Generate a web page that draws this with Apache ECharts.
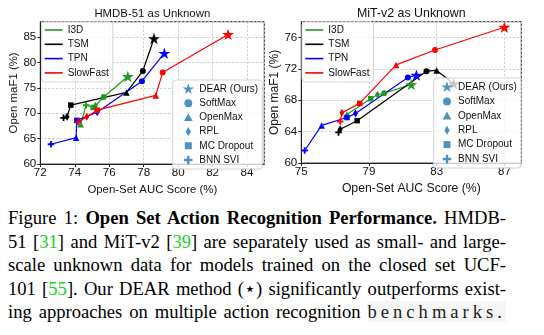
<!DOCTYPE html>
<html><head><meta charset="utf-8">
<script src="https://cdn.jsdelivr.net/npm/echarts@6/dist/echarts.min.js"></script>
<style>
html,body{margin:0;padding:0;background:#fff;}
#wrap{position:relative;width:544px;height:335px;overflow:hidden;background:#fff;}
#chart{position:absolute;left:0;top:0;width:544px;height:200px;}
.cap{position:absolute;left:8px;width:498px;height:23.5px;font-family:"Liberation Serif","Times New Roman",serif;font-size:18.6px;line-height:23.5px;text-align:justify;text-align-last:justify;color:#000;white-space:normal;}
.cite{color:#22d022;}
.garb{letter-spacing:4px;background:rgba(0,0,0,0.035);color:#222;}
</style></head>
<body><div id="wrap"><div id="chart"></div>
<div class="cap" style="top:206.3px">Figure 1: <b>Open Set Action Recognition Performance.</b> HMDB-</div>
<div class="cap" style="top:229.8px">51 [<span class="cite">31</span>] and MiT-v2 [<span class="cite">39</span>] are separately used as small- and large-</div>
<div class="cap" style="top:253.3px">scale unknown data for models trained on the closed set UCF-</div>
<div class="cap" style="top:276.8px">101 [<span class="cite">55</span>]. Our DEAR method (⋆) significantly outperforms exist-</div>
<div class="cap" style="top:300.3px">ing approaches on multiple action recognition <span class="garb">benchmarks.</span></div>
</div>
<script>
// ---- data ----
const methods = ['DEAR (Ours)', 'SoftMax', 'OpenMax', 'RPL', 'MC Dropout', 'BNN SVI'];
const backbones = ['I3D', 'TSM', 'TPN', 'SlowFast'];
const panelTitles = ['HMDB-51 as Unknown', 'MiT-v2 as Unknown'];
const xTicksHmdb = [72, 74, 76, 78, 80, 82, 84];
const yTicksHmdb = [60, 65, 70, 75, 80, 85];
const xTicksMit = [75, 79, 83, 87];
const yTicksMit = [60, 64, 68, 72, 76];
// HMDB-51 as unknown (values in methods order): Open-Set AUC (%), Open maF1 (%)
const hmdbI3dAuc = [77.08, 75.68, 74.34, 75.20, 75.07, 74.66];
const hmdbI3dF1  = [77.24, 73.19, 67.85, 71.48, 71.13, 71.57];
const hmdbTsmAuc = [78.60, 77.95, 77.00, 73.55, 73.77, 73.35];
const hmdbTsmF1  = [84.70, 78.30, 74.10, 69.30, 71.60, 69.10];
const hmdbTpnAuc = [79.20, 77.90, 74.08, 75.30, 74.12, 72.62];
const hmdbTpnF1  = [81.80, 76.30, 65.20, 70.20, 68.60, 63.90];
const hmdbSfAuc  = [82.90, 79.10, 78.70, 74.70, 75.30, 74.20];
const hmdbSfF1   = [85.50, 78.00, 73.50, 69.30, 70.60, 68.30];
// MiT-v2 as unknown
const mitI3dAuc = [81.50, 79.90, 77.70, 79.50, 79.10, 77.68];
const mitI3dF1  = [70.00, 68.90, 66.20, 68.70, 68.20, 65.90];
const mitTsmAuc = [84.00, 82.40, 83.00, 77.30, 78.30, 77.20];
const mitTsmF1  = [70.10, 71.70, 71.80, 64.30, 65.40, 63.90];
const mitTpnAuc = [81.80, 81.30, 76.20, 78.20, 77.70, 75.20];
const mitTpnF1  = [71.20, 70.90, 64.80, 66.30, 65.80, 61.60];
const mitSfAuc  = [87.00, 82.90, 80.60, 77.40, 78.45, 77.30];
const mitSfF1   = [77.30, 74.40, 72.50, 66.40, 67.60, 65.30];

// ---- styles ----
const FONT = '"Liberation Sans", Arial, sans-serif';
const lineColors = {I3D: '#229922', TSM: '#000000', TPN: '#0000ff', SlowFast: '#ff0000'};
const STAR = 'path://M50,2 L61.2,36.6 L97.6,36.6 L68.2,58 L79.4,92.6 L50,71.2 L20.6,92.6 L31.8,58 L2.4,36.6 L38.8,36.6 Z';
const PLUS = 'path://M36,0 L64,0 L64,36 L100,36 L100,64 L64,64 L64,100 L36,100 L36,64 L0,64 L0,36 L36,36 Z';
const markSym = [STAR, 'circle', 'triangle', 'diamond', 'rect', PLUS];
const markSize = [12, 6, 6.5, [5, 8], 5.5, 6.5];
const legendIcons = [
  'path://M0,0 M100,100 M50,2 L61.2,36.6 L97.6,36.6 L68.2,58 L79.4,92.6 L50,71.2 L20.6,92.6 L31.8,58 L2.4,36.6 L38.8,36.6 Z',
  'path://M0,0 M100,100 M50,17 A33,33 0 1,1 49.99,17 Z',
  'path://M0,0 M100,100 M50,15 L86,80 L14,80 Z',
  'path://M0,0 M100,100 M50,12 L72,50 L50,88 L28,50 Z',
  'path://M0,0 M100,100 M21,21 L79,21 L79,79 L21,79 Z',
  'path://M0,0 M100,100 M40,15 L60,15 L60,40 L85,40 L85,60 L60,60 L60,85 L40,85 L40,60 L15,60 L15,40 L40,40 Z'
];
const panels = [
  {I3D: [hmdbI3dAuc, hmdbI3dF1], TSM: [hmdbTsmAuc, hmdbTsmF1], TPN: [hmdbTpnAuc, hmdbTpnF1], SlowFast: [hmdbSfAuc, hmdbSfF1]},
  {I3D: [mitI3dAuc, mitI3dF1], TSM: [mitTsmAuc, mitTsmF1], TPN: [mitTpnAuc, mitTpnF1], SlowFast: [mitSfAuc, mitSfF1]}
];

const series = [];
panels.forEach((p, g) => {
  backbones.forEach(b => {
    const [auc, f1] = p[b];
    const pts = methods.map((m, i) => ({value: [auc[i], f1[i]], symbol: markSym[i], symbolSize: markSize[i]}));
    pts.sort((a, c) => a.value[0] - c.value[0] || a.value[1] - c.value[1]);
    series.push({
      type: 'line', name: b, xAxisIndex: g, yAxisIndex: g, data: pts,
      color: lineColors[b], showAllSymbol: true, symbolKeepAspect: true,
      lineStyle: {width: 1.2, color: lineColors[b]}, itemStyle: {color: lineColors[b]},
      z: 3
    });
  });
});
methods.forEach(m => series.push({type: 'scatter', name: m, xAxisIndex: 0, yAxisIndex: 0, data: [], itemStyle: {color: '#1f77b4'}}));

const grids = [
  {left: 40.3, top: 21.7, width: 224, height: 149},
  {left: 301.3, top: 21.7, width: 220, height: 149}
];
const axisCommon = (extra) => Object.assign({
  type: 'value',
  axisLine: {show: true, onZero: false, lineStyle: {color: '#222', width: 1}},
  axisTick: {show: true, inside: false, length: 3, lineStyle: {color: '#222'}},
  axisLabel: {fontSize: 11.6, color: '#111', fontFamily: FONT, showMaxLabel: false},
  splitLine: {show: true, lineStyle: {color: '#c8c8c8', width: 1, type: [2, 2]}},
  nameLocation: 'middle',
  nameTextStyle: {fontSize: 11.4, color: '#111', fontFamily: FONT}
}, extra);

const xAxes = [
  axisCommon({gridIndex: 0, min: xTicksHmdb[0], max: 85, interval: xTicksHmdb[1] - xTicksHmdb[0], name: 'Open-Set AUC Score (%)', nameGap: 14}),
  axisCommon({gridIndex: 1, min: xTicksMit[0], max: 88, interval: xTicksMit[1] - xTicksMit[0], name: 'Open-Set AUC Score (%)', nameGap: 14, nameTextStyle: {fontSize: 12.2, color: '#111', fontFamily: FONT}})
];
xAxes.forEach(a => { a.axisLabel = Object.assign({}, a.axisLabel, {margin: 3}); });
const yAxes = [
  axisCommon({gridIndex: 0, min: yTicksHmdb[0], max: 88, interval: yTicksHmdb[1] - yTicksHmdb[0], name: 'Open maF1 (%)', nameGap: 18.5}),
  axisCommon({gridIndex: 1, min: yTicksMit[0], max: 78, interval: yTicksMit[1] - yTicksMit[0], name: 'Open maF1 (%)', nameGap: 19.5, nameTextStyle: {fontSize: 12, color: '#111', fontFamily: FONT}})
];
yAxes.forEach(a => { a.axisLabel = Object.assign({}, a.axisLabel, {margin: 4}); });

const legendBox = {
  orient: 'vertical', selectedMode: false,
  backgroundColor: 'rgba(255,255,255,0.78)', borderColor: '#d4d4d4', borderWidth: 1, borderRadius: 3,
  textStyle: {fontSize: 10, lineHeight: 12, color: '#111', fontFamily: FONT}
};
const lineLegend = (left, top, pad) => Object.assign({}, legendBox, {
  left, top, padding: pad, itemWidth: 18, itemHeight: 1.6, itemGap: 2.3,
  data: backbones.map(b => ({name: b, icon: 'rect'}))
});
const markLegend = (left, top, pad, gap) => Object.assign({}, legendBox, {
  left, top, padding: pad, itemWidth: 12, itemHeight: 12, itemGap: gap,
  data: methods.map((m, i) => ({name: m, icon: legendIcons[i]}))
});

const option = {
  animation: false,
  backgroundColor: '#fff',
  title: [
    {text: panelTitles[0], left: 152.3, top: 8.5, textAlign: 'center', padding: 0, textStyle: {fontSize: 11.4, fontWeight: 'normal', color: '#111', fontFamily: FONT}},
    {text: panelTitles[1], left: 411.3, top: 8, textAlign: 'center', padding: 0, textStyle: {fontSize: 12.4, fontWeight: 'normal', color: '#111', fontFamily: FONT}}
  ],
  grid: grids.map(g => Object.assign({show: true, borderColor: '#222', borderWidth: 1, backgroundColor: 'transparent', containLabel: false}, g)),
  xAxis: xAxes,
  yAxis: yAxes,
  legend: [
    lineLegend(41.7, 22, [2, 4, 3, 3]),
    markLegend(172.7, 80, [3, 4, 3, 9.6], 2.2),
    lineLegend(302, 22, [2, 4, 3, 3.3]),
    markLegend(433.7, 78, [3, 4, 3, 7.3], 2.4)
  ],
  series
};
const chart = echarts.init(document.getElementById('chart'), null, {renderer: 'canvas'});
chart.setOption(option);
</script>
</body></html>
